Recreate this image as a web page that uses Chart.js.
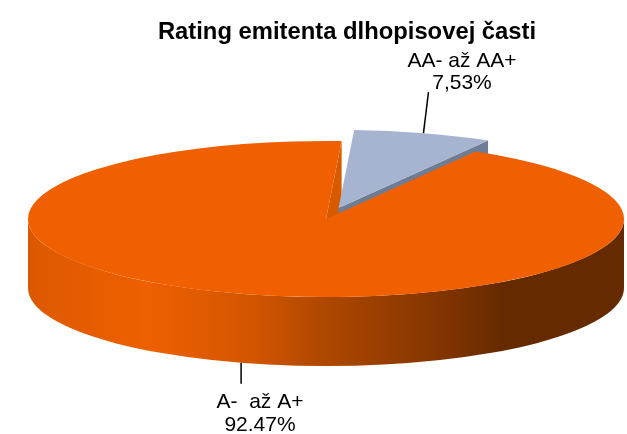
<!DOCTYPE html>
<html>
<head>
<meta charset="utf-8">
<style>
  html, body { margin: 0; padding: 0; background: #fff; }
  canvas { display: block; }
</style>
<script src="https://cdn.jsdelivr.net/npm/chart.js@4/dist/chart.umd.js"></script>
</head>
<body>
<canvas id="ratingChart" width="627" height="434"></canvas>
<script>
const chartTitle = 'Rating emitenta dlhopisovej časti';
const categories = ['AA- až AA+', 'A-  až A+'];
const shares = [7.53, 92.47];
const shareLabels = ['7,53%', '92.47%'];
const sliceColors = ['#a6b4d0', '#f06000'];

// how the flat pie is laid over into perspective
const pieX = 326, pieY = 219, pieRx = 298, pieRy = 78, pieDepth = 69;
const explode = [0.148, 0];

// leader line vector and label position for each slice
const leaders = [[5, -41], [0, 21]];
const labelSpots = [[462, 67], [260, 408]];
const lineGap = [22, 23];

function project(arc, angle, fraction) {
    // angle on the flat pie -> point on the tilted ellipse
    const cx = pieX + (arc.x - arc.baseX) * pieRx / arc.outerRadius;
    const cy = pieY + (arc.y - arc.baseY) * pieRy / arc.outerRadius;
    return [cx + Math.cos(angle) * pieRx * fraction, cy + Math.sin(angle) * pieRy * fraction];
}

function quad(ctx, a, b, color) {
    ctx.fillStyle = color;
    ctx.beginPath();
    ctx.moveTo(a[0], a[1]);
    ctx.lineTo(b[0], b[1]);
    ctx.lineTo(b[0], b[1] + pieDepth);
    ctx.lineTo(a[0], a[1] + pieDepth);
    ctx.closePath();
    ctx.fill();
}

const pie3d = {
    id: 'pie3d',
    afterDatasetsUpdate(chart) {
        chart.getDatasetMeta(0).data.forEach((arc, i) => {
            const mid = (arc.startAngle + arc.endAngle) / 2;
            arc.baseX = arc.x;
            arc.baseY = arc.y;
            arc.x += Math.cos(mid) * arc.outerRadius * explode[i];
            arc.y += Math.sin(mid) * arc.outerRadius * explode[i];
        });
    },
    beforeDatasetsDraw(chart) {
        const ctx = chart.ctx;
        const [blue, orange] = chart.getDatasetMeta(0).data;

        // round wall at the front
        const wall = ctx.createLinearGradient(pieX - pieRx, 0, pieX + pieRx, 0);
        wall.addColorStop(0, '#dc5800');
        wall.addColorStop(0.04, '#e05a00');
        wall.addColorStop(0.20, '#ee6000');
        wall.addColorStop(0.38, '#d25500');
        wall.addColorStop(0.49, '#b04800');
        wall.addColorStop(0.66, '#8a3800');
        wall.addColorStop(0.77, '#6e2d00');
        wall.addColorStop(0.80, '#662a00');
        wall.addColorStop(1, '#662a00');
        ctx.fillStyle = wall;
        ctx.beginPath();
        ctx.ellipse(pieX, pieY, pieRx, pieRy, 0, 0, Math.PI);
        ctx.ellipse(pieX, pieY + pieDepth, pieRx, pieRy, 0, Math.PI, 0, true);
        ctx.closePath();
        ctx.fill();

        // cut faces seen through the gap
        quad(ctx, project(orange, orange.endAngle, 0), project(orange, orange.endAngle, 1), '#d85a00');
        quad(ctx, project(blue, blue.endAngle, 0), project(blue, blue.endAngle, 1), '#6f7d94');

        ctx.save();
        const r = orange.outerRadius;
        ctx.translate(pieX, pieY);
        ctx.scale(pieRx / r, pieRy / r);
        ctx.translate(-orange.x, -orange.y);
    },
    afterDatasetsDraw(chart) {
        const ctx = chart.ctx;
        ctx.restore();

        chart.getDatasetMeta(0).data.forEach((arc, i) => {
            const mid = (arc.startAngle + arc.endAngle) / 2;
            const p = project(arc, mid, 1);
            const startY = p[1] + (Math.sin(mid) > 0 ? pieDepth : 0);
            ctx.strokeStyle = '#000';
            ctx.lineWidth = 1.5;
            ctx.beginPath();
            ctx.moveTo(p[0], startY);
            ctx.lineTo(p[0] + leaders[i][0], startY + leaders[i][1]);
            ctx.stroke();

            ctx.fillStyle = '#000';
            ctx.font = '21px "Liberation Sans", Arial, sans-serif';
            ctx.textAlign = 'center';
            ctx.textBaseline = 'alphabetic';
            ctx.fillText(categories[i], labelSpots[i][0], labelSpots[i][1]);
            ctx.fillText(shareLabels[i], labelSpots[i][0], labelSpots[i][1] + lineGap[i]);
        });
    }
};

new Chart(document.getElementById('ratingChart'), {
    type: 'pie',
    data: {
        labels: categories,
        datasets: [{
            data: shares,
            backgroundColor: sliceColors,
            borderWidth: 0,
            clip: false
        }]
    },
    options: {
        responsive: false,
        animation: false,
        rotation: 3,
        radius: 100,
        layout: { padding: { left: 67 } },
        plugins: {
            legend: { display: false },
            tooltip: { enabled: false },
            title: {
                display: true,
                text: chartTitle,
                color: '#000',
                font: { family: '"Liberation Sans", Arial, sans-serif', size: 23.8, weight: 'bold' },
                padding: { top: 18, bottom: 10 }
            }
        }
    },
    plugins: [pie3d]
});
</script>
</body>
</html>
